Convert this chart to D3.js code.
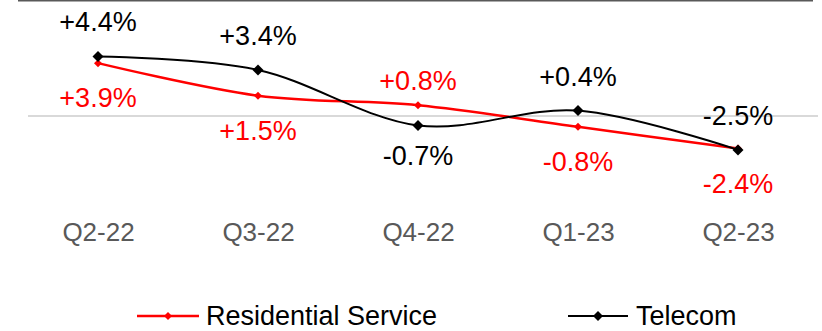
<!DOCTYPE html>
<html>
<head>
<meta charset="utf-8">
<script src="https://cdn.jsdelivr.net/npm/d3@7"></script>
<style>
  html, body { margin: 0; padding: 0; background: #fff; }
  svg { display: block; font-family: Arial, "Liberation Sans", sans-serif; }
</style>
</head>
<body>
<svg id="chart" width="822" height="331"></svg>
<script>
// Quarterly growth, % change
const quarters = ["Q2-22", "Q3-22", "Q4-22", "Q1-23", "Q2-23"];
const residentialService = [3.9, 1.5, 0.8, -0.8, -2.4];
const telecom = [4.4, 3.4, -0.7, 0.4, -2.5];
const seriesNames = ["Residential Service", "Telecom"];

const svg = d3.select("#chart");

const x = d3.scalePoint().domain(quarters).range([98, 738]);
const pxPerUnit = 13.55;
const zeroY = 116;
const y = d3.scaleLinear()
  .domain([-2.5, 4.4])
  .range([zeroY + 2.5 * pxPerUnit, zeroY - 4.4 * pxPerUnit]);

// frame line along the top edge
svg.append("line")
  .attr("x1", 18).attr("x2", 813)
  .attr("y1", 0.75).attr("y2", 0.75)
  .attr("stroke", "#595959").attr("stroke-width", 1.5);

// zero baseline
svg.append("line")
  .attr("x1", 28).attr("x2", 818)
  .attr("y1", y(0)).attr("y2", y(0))
  .attr("stroke", "#d9d9d9").attr("stroke-width", 2);

// category axis
const axis = svg.append("g")
  .attr("transform", "translate(0,219.5)")
  .call(d3.axisBottom(x).tickSize(0).tickPadding(3));
axis.select(".domain").remove();
axis.selectAll("text")
  .attr("font-size", 26)
  .attr("font-family", "Arial, 'Liberation Sans', sans-serif")
  .attr("fill", "#595959");

const line = d3.line()
  .x((d, i) => x(quarters[i]))
  .y(d => y(d))
  .curve(d3.curveCatmullRom.alpha(0));

const diamond = (s) => `M0,${-s}L${s},0L0,${s}L${-s},0Z`;

const series = [
  { name: seriesNames[0], values: residentialService, color: "#ff0000", width: 2.5, marker: 4,
    place: ["below", "below", "above", "below", "below"], above: -15, below: 44 },
  { name: seriesNames[1], values: telecom, color: "#000000", width: 2, marker: 5.5,
    place: ["above", "above", "below", "above", "above"], above: -25, below: 40 }
];

const fmt = v => (v > 0 ? "+" : "") + v.toFixed(1) + "%";

series.forEach(s => {
  const g = svg.append("g");
  g.append("path")
    .attr("d", line(s.values))
    .attr("fill", "none")
    .attr("stroke", s.color)
    .attr("stroke-width", s.width);
  g.selectAll("path.mk")
    .data(s.values)
    .join("path")
    .attr("class", "mk")
    .attr("d", diamond(s.marker))
    .attr("transform", (d, i) => `translate(${x(quarters[i])},${y(d)})`)
    .attr("fill", s.color);
  g.selectAll("text")
    .data(s.values)
    .join("text")
    .attr("x", (d, i) => x(quarters[i]))
    .attr("y", (d, i) => y(d) + (s.place[i] === "above" ? s.above : s.below))
    .attr("text-anchor", "middle")
    .attr("font-size", 27)
    .attr("fill", s.color)
    .text(fmt);
});

// legend
const legendY = 316;
const legendItems = [
  { name: seriesNames[0], color: "#ff0000", width: 2.5, marker: 4, x1: 137, x2: 199, tx: 206 },
  { name: seriesNames[1], color: "#000000", width: 2, marker: 5, x1: 568, x2: 628, tx: 636 }
];
const lg = svg.append("g");
legendItems.forEach(it => {
  lg.append("line")
    .attr("x1", it.x1).attr("x2", it.x2)
    .attr("y1", legendY).attr("y2", legendY)
    .attr("stroke", it.color).attr("stroke-width", it.width);
  lg.append("path")
    .attr("d", diamond(it.marker))
    .attr("transform", `translate(${(it.x1 + it.x2) / 2},${legendY})`)
    .attr("fill", it.color);
  lg.append("text")
    .attr("x", it.tx).attr("y", legendY + 9)
    .attr("font-size", 27)
    .attr("fill", "#000")
    .text(it.name);
});
</script>
</body>
</html>
